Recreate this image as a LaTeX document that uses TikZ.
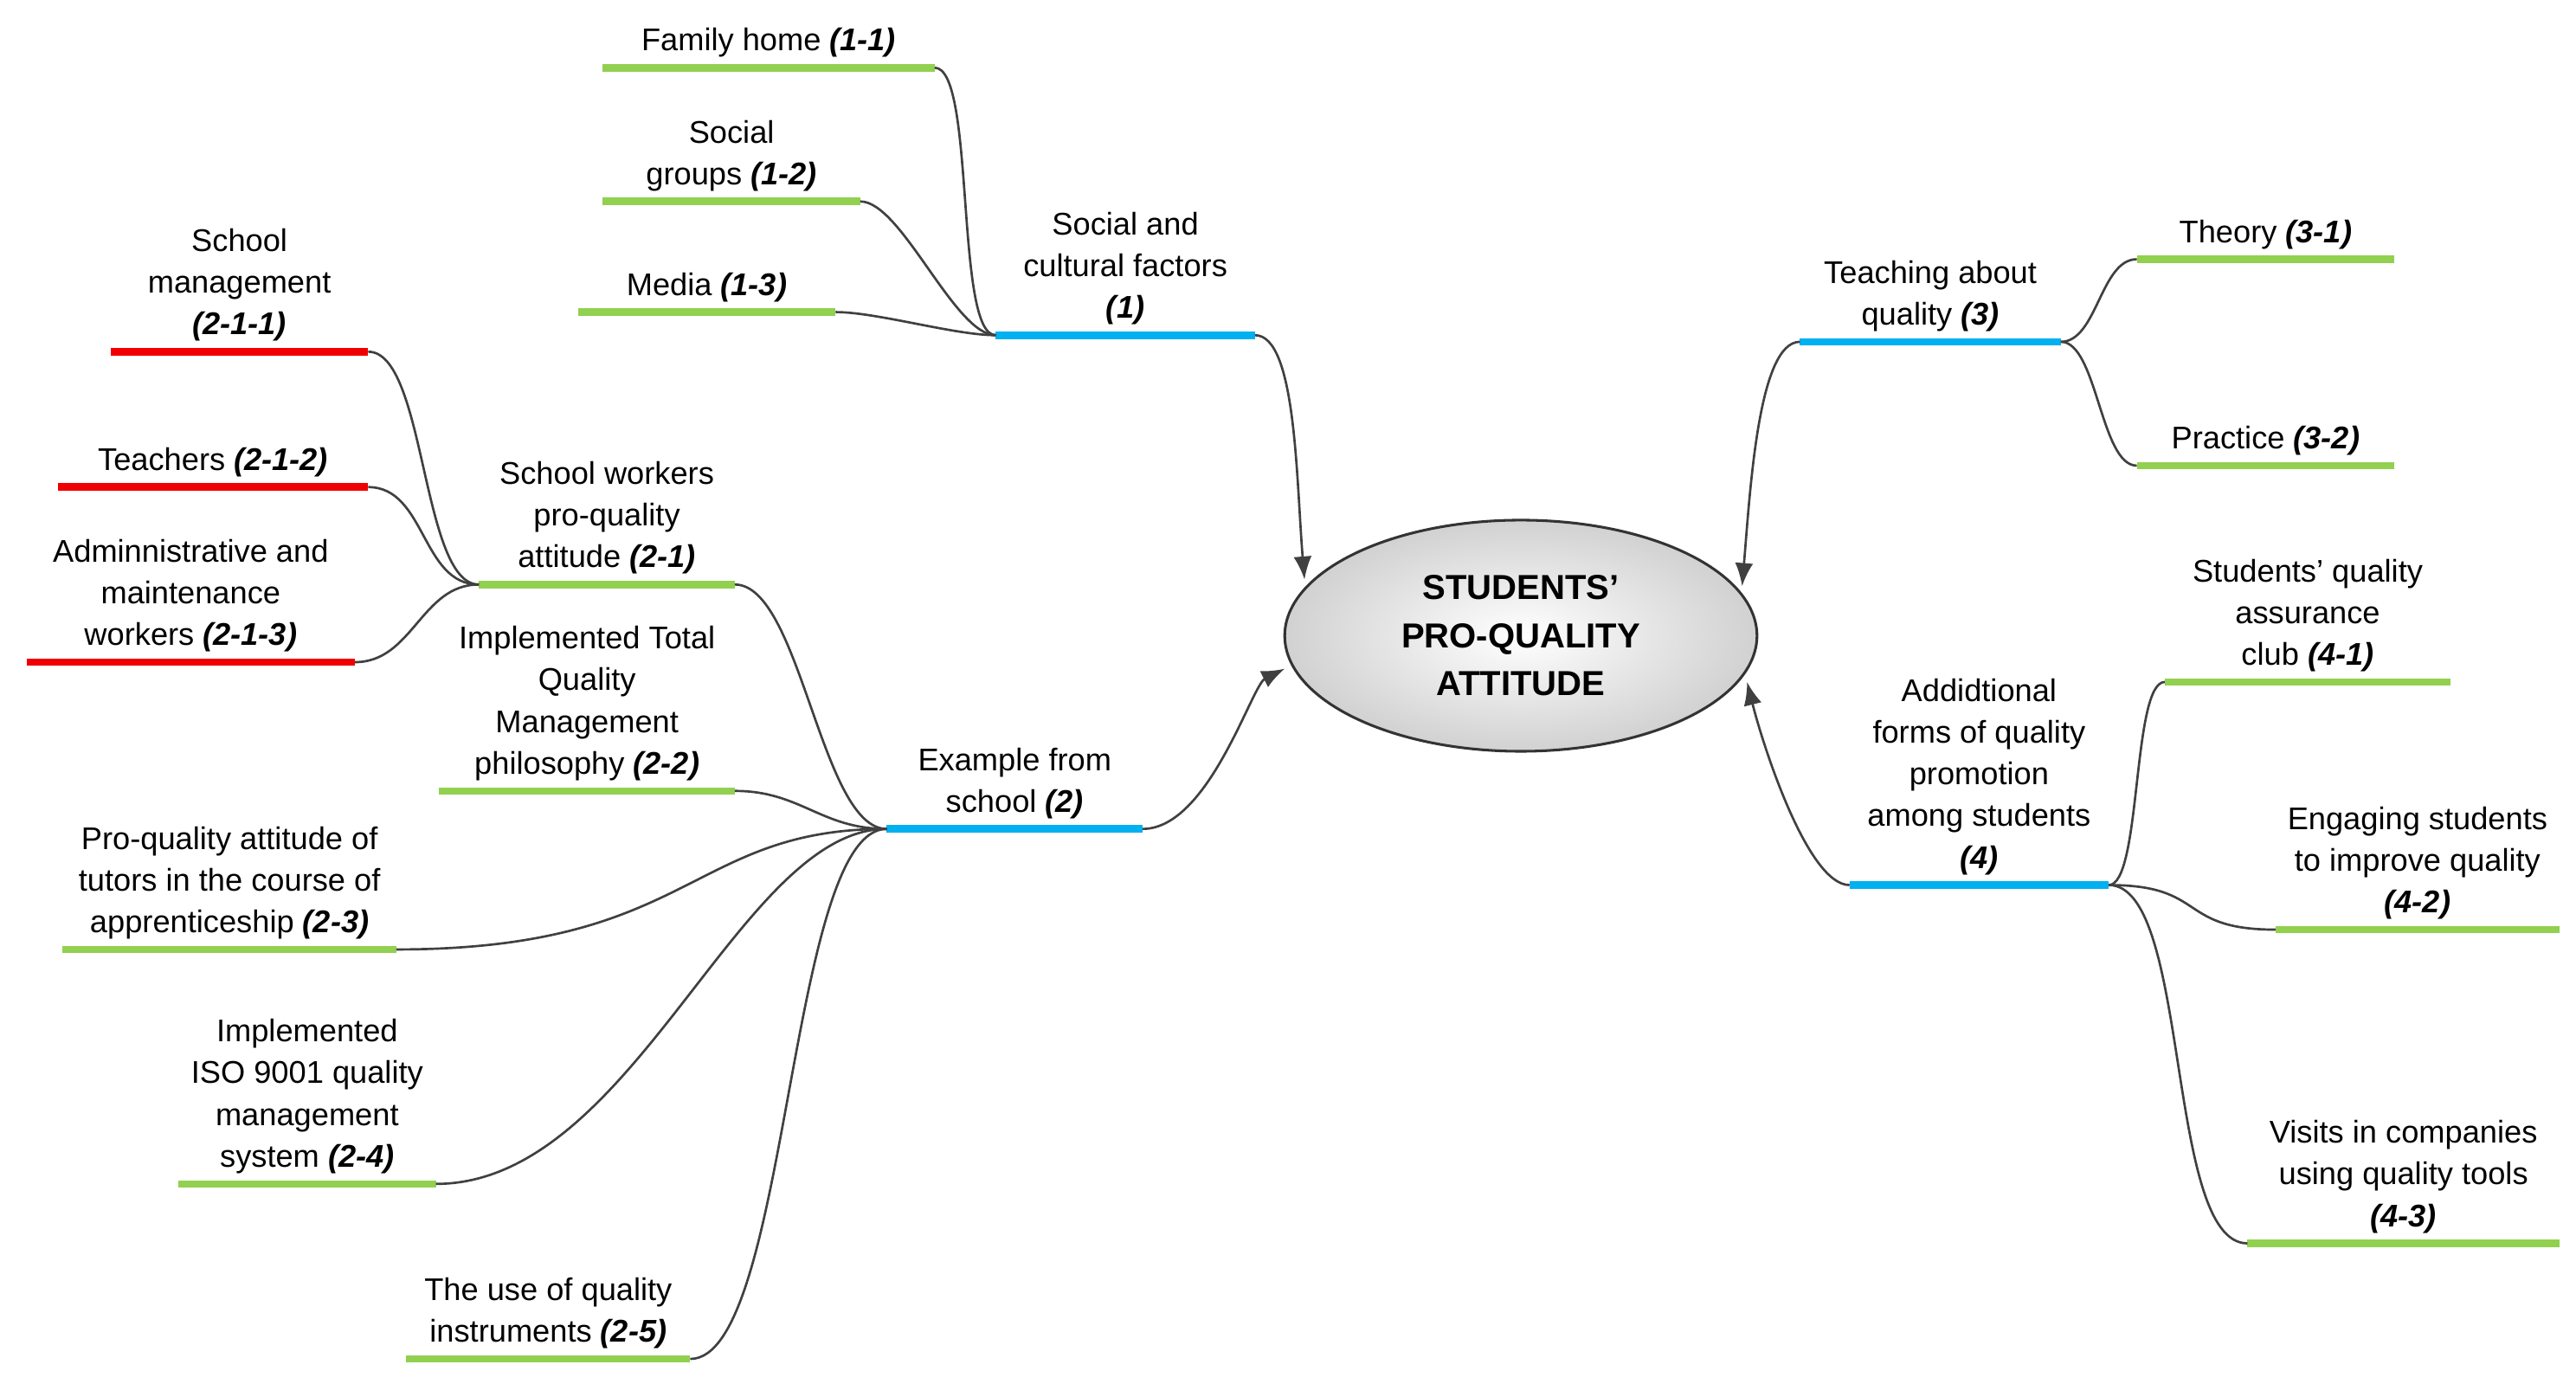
\documentclass[tikz,border=0pt]{standalone}
\usepackage{fontspec}
\setmainfont{Liberation Sans}
\usetikzlibrary{arrows.meta,shapes.geometric}
\newcommand\tp[7]{% name, x1, x2, y, color, text lines
  \draw[line width=4.5pt,#5] (#2,-#4) coordinate (#1L) -- (#3,-#4) coordinate (#1R);
  \node[lbl,anchor=south] (#1T) at ({(#2+#3)/2},-#4+4+#7) {#6};}
\newcommand\nb[1]{\textbf{\textit{#1}}}
\begin{document}
\begin{tikzpicture}[x=1pt,y=1pt,
  lbl/.style={align=center,font=\fontsize{19}{25.3}\selectfont,inner sep=2pt},
  con/.style={draw=black!75,line width=1.4pt},
  arr/.style={con,-{Latex[length=14pt,width=11pt]}}]
\useasboundingbox (0,0) rectangle (1560,-838);
\definecolor{gr}{RGB}{146,208,80}
\definecolor{bl}{RGB}{0,176,240}
\definecolor{rd}{RGB}{240,0,0}
\node[ellipse,minimum width=286pt,minimum height=140pt,draw=black!80,line width=1.6pt,
  inner color=white,outer color=black!18,align=center,
  font=\fontsize{21}{29}\selectfont\bfseries] (C) at (921,-385) {STUDENTS'\\PRO-QUALITY\\ATTITUDE};
% 1
\tp{a}{603}{760}{203}{bl}{Social and\\cultural factors\\\nb{(1)}}{0}
\tp{a1}{365}{566}{41}{gr}{Family home \nb{(1-1)}}{0}
\tp{a2}{365}{521}{122}{gr}{Social\\groups \nb{(1-2)}}{0}
\tp{a3}{350}{506}{189}{gr}{Media \nb{(1-3)}}{0}
\foreach \c in {a1,a2,a3} \draw[con] (\c R) .. controls +(25,0) and +(-25,0) .. (aL);
\draw[arr] (aR) .. controls +(25,0) and +(-5,60) .. (790,-351);
% 3
\tp{c}{1090}{1248}{207}{bl}{Teaching about\\quality \nb{(3)}}{0}
\tp{c1}{1294}{1450}{157}{gr}{Theory \nb{(3-1)}}{0}
\tp{c2}{1294}{1450}{282}{gr}{Practice \nb{(3-2)}}{0}
\foreach \c in {c1,c2} \draw[con] (cR) .. controls +(22,0) and +(-22,0) .. (\c L);
\draw[arr] (cL) .. controls +(-25,0) and +(5,60) .. (1055,-355);
% 4
\tp{d}{1120}{1277}{536}{bl}{Addidtional\\forms of quality\\promotion\\among students\\\nb{(4)}}{0}
\tp{d1}{1311}{1484}{413}{gr}{Students' quality\\assurance\\club \nb{(4-1)}}{0}
\tp{d2}{1378}{1550}{563}{gr}{Engaging students\\to improve quality\\\nb{(4-2)}}{0}
\tp{d3}{1361}{1550}{753}{gr}{Visits in companies\\using quality tools\\\nb{(4-3)}}{0}
\draw[con] (dR) .. controls +(20,0) and +(-20,0) .. (d1L);
\draw[con] (dR) .. controls +(60,0) and +(-60,0) .. (d2L);
\draw[con] (dR) .. controls +(50,0) and +(-50,0) .. (d3L);
\draw[arr] (dL) .. controls +(-25,0) and +(10,-40) .. (1058,-413);
% 2
\tp{b}{537}{692}{502}{bl}{Example from\\school \nb{(2)}}{0}
\draw[arr] (bR) .. controls +(40,0) and +(-20,-10) .. (778,-405);
\tp{b1}{290}{445}{354}{gr}{School workers\\pro-quality\\attitude \nb{(2-1)}}{0}
\tp{b2}{266}{445}{479}{gr}{Implemented Total\\Quality\\Management\\philosophy \nb{(2-2)}}{0}
\tp{b3}{38}{240}{575}{gr}{Pro-quality attitude of\\tutors in the course of\\apprenticeship \nb{(2-3)}}{0}
\tp{b4}{108}{264}{717}{gr}{Implemented\\ISO 9001 quality\\management\\system \nb{(2-4)}}{0}
\tp{b5}{246}{418}{823}{gr}{The use of quality\\instruments \nb{(2-5)}}{0}
\draw[con] (b1R) .. controls +(40,0) and +(-40,0) .. (bL);
\draw[con] (b2R) .. controls +(40,0) and +(-40,0) .. (bL);
\draw[con] (b3R) .. controls +(180,0) and +(-120,0) .. (bL);
\draw[con] (b4R) .. controls +(120,0) and +(-90,0) .. (bL);
\draw[con] (b5R) .. controls +(60,0) and +(-60,0) .. (bL);
% 2-1-x
\tp{e1}{67}{223}{213}{rd}{School\\management\\\nb{(2-1-1)}}{0}
\tp{e2}{35}{223}{295}{rd}{Teachers \nb{(2-1-2)}}{0}
\tp{e3}{16}{215}{401}{rd}{Adminnistrative and\\maintenance\\workers \nb{(2-1-3)}}{0}
\foreach \c in {e1,e2,e3} \draw[con] (\c R) .. controls +(35,0) and +(-35,0) .. (b1L);
\end{tikzpicture}
\end{document}
